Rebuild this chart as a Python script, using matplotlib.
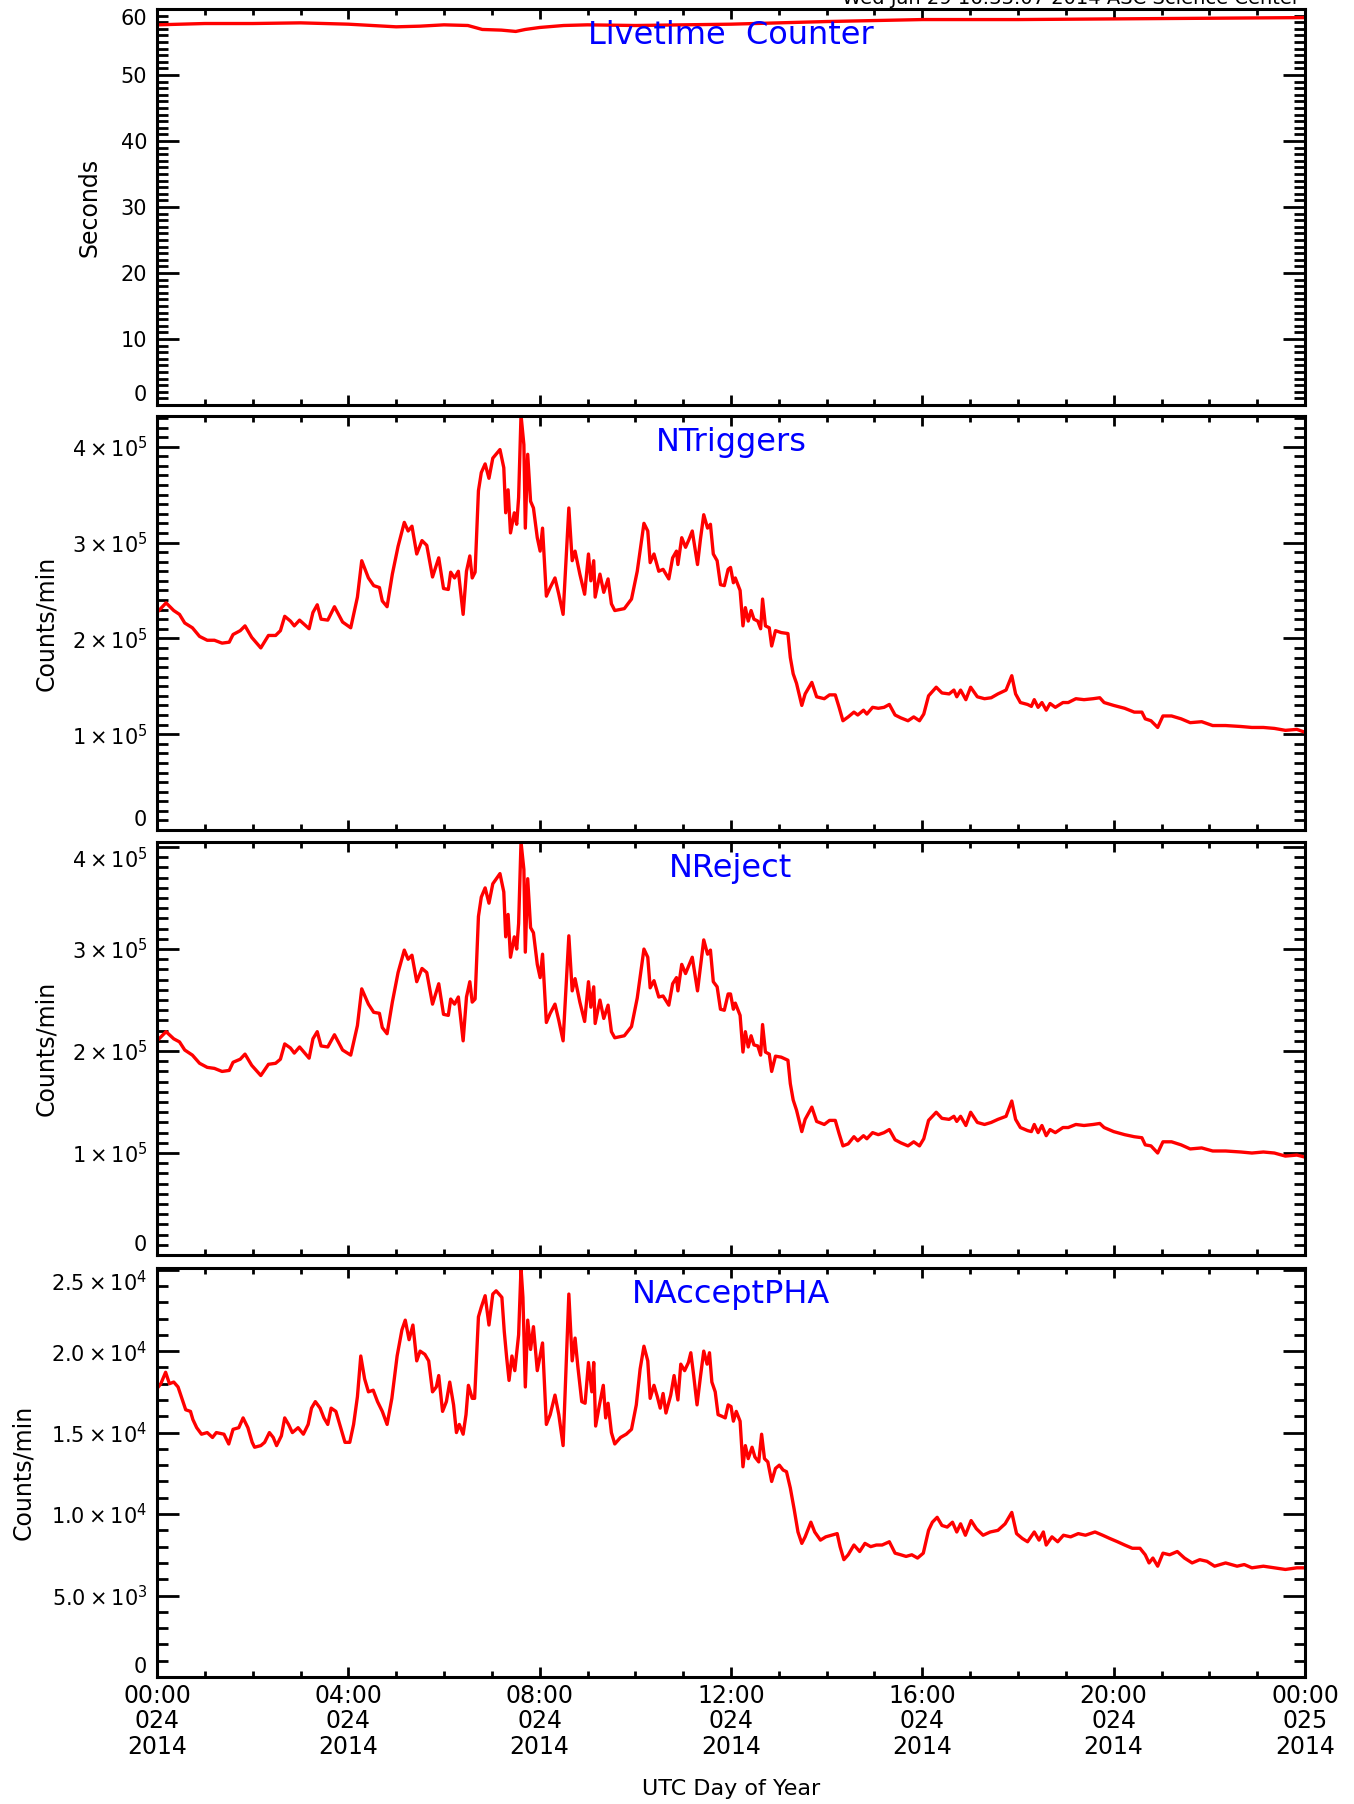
import matplotlib
matplotlib.use('Agg')
import matplotlib.pyplot as plt
from matplotlib.ticker import MultipleLocator

# hours since 00:00 day 024 (2014)
hours_live = [0, 1, 2, 3, 4, 4.5, 5, 5.5, 6, 6.5, 6.8, 7.2, 7.5, 7.7, 8, 8.5, 9, 10, 11, 12, 13, 14, 16, 18, 20, 22, 24]
livetime = [57.6, 57.8, 57.8, 57.9, 57.7, 57.5, 57.3, 57.4, 57.6, 57.5, 56.9, 56.8, 56.6, 56.9, 57.2, 57.5, 57.6,
            57.5, 57.6, 57.7, 57.9, 58.1, 58.4, 58.4, 58.5, 58.6, 58.7]

hours_trig = [0, 0.19, 0.35, 0.47, 0.58, 0.74, 0.89, 1.05, 1.2, 1.36, 1.51, 1.59, 1.74, 1.84, 1.98, 2.17, 2.33,
              2.48, 2.58, 2.67, 2.79, 2.87, 2.98, 3.18, 3.26, 3.35, 3.43, 3.57, 3.71, 3.88, 4.05, 4.19, 4.28,
              4.42, 4.53, 4.65, 4.71, 4.81, 4.92, 5.04, 5.17, 5.25, 5.33, 5.43, 5.54, 5.64, 5.76, 5.89, 5.99,
              6.09, 6.14, 6.22, 6.30, 6.40, 6.47, 6.54, 6.59, 6.65, 6.72, 6.78, 6.86, 6.94, 7.02, 7.17, 7.25,
              7.29, 7.34, 7.39, 7.47, 7.52, 7.56, 7.61, 7.67, 7.70, 7.75, 7.81, 7.87, 7.95, 8.01, 8.06, 8.14,
              8.22, 8.32, 8.40, 8.49, 8.61, 8.68, 8.74, 8.84, 8.94, 9.02, 9.07, 9.13, 9.16, 9.26, 9.34, 9.43,
              9.50, 9.57, 9.77, 9.92, 10.04, 10.18, 10.26, 10.31, 10.39, 10.49, 10.58, 10.70, 10.78, 10.86,
              10.89, 10.97, 11.05, 11.12, 11.19, 11.24, 11.30, 11.36, 11.43, 11.51, 11.57, 11.63, 11.71, 11.78,
              11.86, 11.94, 11.99, 12.05, 12.09, 12.19, 12.25, 12.30, 12.36, 12.42, 12.48, 12.56, 12.62, 12.66,
              12.72, 12.80, 12.85, 12.93, 13.05, 13.19, 13.24, 13.30, 13.37, 13.48, 13.55, 13.69, 13.79, 13.95,
              14.06, 14.18, 14.26, 14.34, 14.45, 14.57, 14.65, 14.77, 14.84, 14.96, 15.08, 15.20, 15.31, 15.43,
              15.55, 15.70, 15.82, 15.94, 16.03, 16.13, 16.29, 16.41, 16.56, 16.66, 16.72, 16.80, 16.91, 17.01,
              17.15, 17.30, 17.44, 17.58, 17.75, 17.87, 17.95, 18.05, 18.20, 18.28, 18.34, 18.42, 18.50, 18.59,
              18.67, 18.78, 18.94, 19.05, 19.21, 19.38, 19.57, 19.71, 19.80, 20.0, 20.23, 20.43, 20.59, 20.66,
              20.78, 20.92, 21.03, 21.21, 21.41, 21.60, 21.84, 22.07, 22.34, 22.66, 22.89, 23.13, 23.36, 23.59,
              23.83, 24.0]

# counts/min in units of 1e5
ntriggers = [2.27, 2.37, 2.29, 2.25, 2.16, 2.11, 2.02, 1.98, 1.98, 1.95, 1.96, 2.04, 2.08, 2.13, 2.01, 1.90, 2.03,
             2.03, 2.08, 2.23, 2.18, 2.13, 2.19, 2.10, 2.27, 2.35, 2.20, 2.19, 2.33, 2.17, 2.11, 2.43, 2.81,
             2.63, 2.55, 2.53, 2.39, 2.33, 2.67, 2.96, 3.21, 3.12, 3.17, 2.88, 3.02, 2.97, 2.64, 2.84, 2.52,
             2.51, 2.69, 2.63, 2.70, 2.25, 2.70, 2.86, 2.63, 2.69, 3.54, 3.73, 3.82, 3.67, 3.88, 3.97, 3.78,
             3.31, 3.55, 3.10, 3.31, 3.19, 3.47, 4.33, 4.02, 3.15, 3.92, 3.43, 3.36, 3.05, 2.91, 3.15, 2.44,
             2.53, 2.63, 2.46, 2.25, 3.36, 2.81, 2.91, 2.67, 2.46, 2.88, 2.60, 2.81, 2.43, 2.67, 2.48, 2.62,
             2.36, 2.29, 2.31, 2.41, 2.70, 3.20, 3.12, 2.79, 2.88, 2.70, 2.72, 2.62, 2.84, 2.91,
             2.77, 3.05, 2.95, 3.03, 3.12, 2.96, 2.77, 3.03, 3.29, 3.15, 3.19, 2.88, 2.81, 2.56,
             2.55, 2.72, 2.74, 2.58, 2.63, 2.50, 2.13, 2.32, 2.18, 2.29, 2.20, 2.18, 2.10, 2.41,
             2.13, 2.11, 1.92, 2.08, 2.06, 2.05, 1.80, 1.63, 1.53, 1.30, 1.42, 1.54, 1.39, 1.37,
             1.41, 1.41, 1.28, 1.14, 1.18, 1.23, 1.20, 1.25, 1.21, 1.28, 1.27, 1.28, 1.31, 1.20,
             1.17, 1.14, 1.18, 1.14, 1.21, 1.40, 1.49, 1.43, 1.42, 1.46, 1.39, 1.46, 1.36, 1.49,
             1.39, 1.37, 1.38, 1.42, 1.46, 1.61, 1.42, 1.33, 1.31, 1.29, 1.36, 1.28, 1.33, 1.25,
             1.32, 1.28, 1.33, 1.33, 1.37, 1.36, 1.37, 1.38, 1.33, 1.30, 1.27, 1.23, 1.23, 1.16,
             1.14, 1.07, 1.19, 1.19, 1.16, 1.12, 1.13, 1.09, 1.09, 1.08, 1.07, 1.07, 1.06, 1.04,
             1.05, 1.02]

nreject = [2.10, 2.19, 2.12, 2.09, 2.01, 1.96, 1.88, 1.84, 1.83, 1.80, 1.81, 1.89, 1.92, 1.97, 1.86, 1.76, 1.87,
           1.88, 1.92, 2.07, 2.03, 1.98, 2.04, 1.93, 2.12, 2.19, 2.05, 2.04, 2.16, 2.01, 1.96, 2.25, 2.61,
           2.46, 2.38, 2.37, 2.23, 2.17, 2.48, 2.77, 2.99, 2.90, 2.94, 2.68, 2.81, 2.77, 2.46, 2.66, 2.36,
           2.35, 2.51, 2.46, 2.53, 2.10, 2.53, 2.68, 2.48, 2.51, 3.32, 3.51, 3.60, 3.45, 3.64, 3.74, 3.56,
           3.12, 3.34, 2.92, 3.12, 3.00, 3.25, 4.05, 3.78, 2.97, 3.69, 3.21, 3.16, 2.85, 2.72, 2.95, 2.28,
           2.37, 2.46, 2.30, 2.10, 3.13, 2.59, 2.71, 2.48, 2.29, 2.68, 2.43, 2.63, 2.27, 2.50, 2.32, 2.45,
           2.19, 2.13, 2.15, 2.24, 2.52, 3.00, 2.92, 2.62, 2.69, 2.53, 2.54, 2.45, 2.66, 2.72,
           2.59, 2.85, 2.76, 2.84, 2.92, 2.77, 2.59, 2.82, 3.09, 2.95, 2.99, 2.68, 2.63, 2.41,
           2.40, 2.56, 2.56, 2.41, 2.47, 2.35, 1.99, 2.19, 2.04, 2.15, 2.06, 2.05, 1.96, 2.26,
           1.99, 1.97, 1.80, 1.95, 1.94, 1.91, 1.68, 1.52, 1.42, 1.21, 1.33, 1.45, 1.31, 1.28,
           1.32, 1.32, 1.19, 1.07, 1.09, 1.16, 1.12, 1.17, 1.14, 1.20, 1.18, 1.20, 1.23, 1.13,
           1.10, 1.07, 1.11, 1.07, 1.14, 1.32, 1.40, 1.34, 1.33, 1.36, 1.31, 1.36, 1.27, 1.40,
           1.30, 1.28, 1.30, 1.33, 1.36, 1.51, 1.33, 1.25, 1.22, 1.21, 1.28, 1.20, 1.27, 1.17,
           1.23, 1.20, 1.25, 1.25, 1.28, 1.27, 1.28, 1.29, 1.25, 1.21, 1.18, 1.16, 1.15, 1.08,
           1.07, 1.00, 1.11, 1.11, 1.08, 1.04, 1.05, 1.02, 1.02, 1.01, 1.00, 1.01, 1.00, 0.97,
           0.98, 0.96]

hours_pha = [0, 0.08, 0.18, 0.26, 0.35, 0.44, 0.52, 0.60, 0.70, 0.75, 0.83, 0.93, 1.05, 1.16, 1.24, 1.40, 1.50,
             1.59, 1.71, 1.80, 1.90, 1.99, 2.04, 2.17, 2.25, 2.35, 2.43, 2.50, 2.60, 2.67, 2.75, 2.83, 2.95,
             3.06, 3.16, 3.23, 3.31, 3.41, 3.49, 3.57, 3.64, 3.74, 3.84, 3.93, 4.03, 4.11, 4.19, 4.26, 4.34,
             4.42, 4.52, 4.61, 4.71, 4.81, 4.91, 5.02, 5.12, 5.19, 5.27, 5.35, 5.43, 5.50, 5.60, 5.68, 5.76,
             5.84, 5.89, 5.97, 6.05, 6.12, 6.20, 6.26, 6.32, 6.40, 6.46, 6.51, 6.59, 6.64, 6.72, 6.78, 6.86,
             6.94, 7.02, 7.09, 7.21, 7.26, 7.31, 7.36, 7.42, 7.48, 7.56, 7.61, 7.65, 7.70, 7.75, 7.81, 7.87,
             7.95, 8.06, 8.14, 8.22, 8.32, 8.40, 8.49, 8.57, 8.61, 8.68, 8.74, 8.80, 8.88, 8.95, 9.02, 9.09,
             9.13, 9.17, 9.25, 9.33, 9.38, 9.43, 9.50, 9.57, 9.69, 9.81, 9.92, 10.02, 10.10, 10.18, 10.26,
             10.31, 10.39, 10.46, 10.52, 10.58, 10.64, 10.74, 10.81, 10.89, 10.95, 11.03, 11.11, 11.16, 11.22,
             11.29, 11.36, 11.43, 11.50, 11.55, 11.60, 11.67, 11.73, 11.81, 11.88, 11.94, 12.0, 12.05, 12.11,
             12.19, 12.25, 12.30, 12.36, 12.44, 12.50, 12.58, 12.64, 12.70, 12.77, 12.85, 12.93, 13.01, 13.09,
             13.16, 13.24, 13.32, 13.40, 13.48, 13.55, 13.67, 13.75, 13.87, 13.98, 14.10, 14.22, 14.28, 14.36,
             14.45, 14.57, 14.69, 14.80, 14.92, 15.04, 15.16, 15.31, 15.43, 15.55, 15.66, 15.78, 15.90, 16.02,
             16.13, 16.21, 16.31, 16.41, 16.52, 16.63, 16.72, 16.80, 16.90, 17.02, 17.13, 17.27, 17.42, 17.58,
             17.73, 17.87, 17.97, 18.09, 18.20, 18.34, 18.44, 18.53, 18.59, 18.71, 18.83, 18.95, 19.10, 19.26,
             19.41, 19.61, 19.77, 19.92, 20.08, 20.23, 20.39, 20.55, 20.66, 20.74, 20.82, 20.92, 21.03, 21.17,
             21.33, 21.48, 21.64, 21.80, 21.95, 22.11, 22.34, 22.58, 22.73, 22.89, 23.13, 23.36, 23.59, 23.83,
             24.0]

# counts/min in units of 1e4
naccept_pha = [1.77, 1.80, 1.87, 1.80, 1.81, 1.78, 1.71, 1.64, 1.63, 1.58, 1.53, 1.49, 1.50, 1.47, 1.50, 1.49, 1.43,
               1.52, 1.53, 1.59, 1.53, 1.44, 1.41, 1.42, 1.44, 1.50, 1.47, 1.42, 1.48, 1.59, 1.55, 1.50, 1.53,
               1.49, 1.55, 1.65, 1.69, 1.65, 1.59, 1.55, 1.65, 1.63, 1.53, 1.44, 1.44, 1.55, 1.72, 1.97, 1.83,
               1.75, 1.76, 1.69, 1.63, 1.55, 1.71, 1.97, 2.13, 2.19, 2.07, 2.16, 1.94, 2.00, 1.98, 1.94, 1.75,
               1.78, 1.85, 1.63, 1.69, 1.81, 1.67, 1.50, 1.55, 1.49, 1.61, 1.79, 1.71, 1.71, 2.21, 2.27, 2.34,
               2.16, 2.35, 2.37, 2.33, 2.12, 1.96, 1.82, 1.97, 1.88, 2.10, 2.51, 2.33, 1.78, 2.19, 2.01, 2.15,
               1.88, 2.05, 1.55, 1.61, 1.73, 1.61, 1.42, 2.04, 2.35, 1.94, 2.08, 1.90, 1.69, 1.68, 1.93, 1.75,
               1.93, 1.54, 1.67, 1.79, 1.59, 1.68, 1.50, 1.43, 1.47, 1.49, 1.52, 1.67, 1.89, 2.03, 1.94,
               1.71, 1.79, 1.72, 1.65, 1.74, 1.62, 1.73, 1.85, 1.70, 1.92, 1.88, 1.93, 1.99, 1.85,
               1.67, 1.84, 2.00, 1.92, 1.99, 1.81, 1.75, 1.61, 1.60, 1.59, 1.67, 1.66, 1.57, 1.63,
               1.57, 1.29, 1.42, 1.34, 1.41, 1.35, 1.32, 1.49, 1.34, 1.32, 1.20, 1.28, 1.30, 1.27,
               1.26, 1.16, 1.03, 0.89, 0.82, 0.86, 0.95, 0.89, 0.84, 0.86, 0.87, 0.88, 0.80, 0.72,
               0.75, 0.81, 0.77, 0.82, 0.80, 0.81, 0.81, 0.83, 0.76, 0.75, 0.74, 0.75, 0.73, 0.76,
               0.90, 0.95, 0.98, 0.93, 0.92, 0.95, 0.89, 0.94, 0.87, 0.96, 0.91, 0.87, 0.89, 0.90,
               0.94, 1.01, 0.88, 0.85, 0.83, 0.89, 0.84, 0.89, 0.81, 0.86, 0.83, 0.87, 0.86, 0.88,
               0.87, 0.89, 0.87, 0.85, 0.83, 0.81, 0.79, 0.79, 0.75, 0.70, 0.73, 0.68, 0.76, 0.75,
               0.77, 0.73, 0.70, 0.72, 0.71, 0.68, 0.70, 0.68, 0.69, 0.67, 0.68, 0.67, 0.66, 0.67,
               0.67]

titles = ['Livetime  Counter', 'NTriggers', 'NReject', 'NAcceptPHA']
ylabels = ['Seconds', 'Counts/min', 'Counts/min', 'Counts/min']
x_tick_hours = [0, 4, 8, 12, 16, 20, 24]
x_tick_labels = ['00:00\n024\n2014', '04:00\n024\n2014', '08:00\n024\n2014', '12:00\n024\n2014',
                 '16:00\n024\n2014', '20:00\n024\n2014', '00:00\n025\n2014']

live_ticks = [0, 10, 20, 30, 40, 50, 60]
live_labels = ['0', '10', '20', '30', '40', '50', '60']
count_ticks = [0, 1e5, 2e5, 3e5, 4e5]
count_labels = ['0', r'$1\times10^{5}$', r'$2\times10^{5}$', r'$3\times10^{5}$', r'$4\times10^{5}$']
pha_ticks = [0, 5e3, 1e4, 1.5e4, 2e4, 2.5e4]
pha_labels = ['0', r'$5.0\times10^{3}$', r'$1.0\times10^{4}$', r'$1.5\times10^{4}$',
              r'$2.0\times10^{4}$', r'$2.5\times10^{4}$']

W, H = 1354, 1804
fig = plt.figure(figsize=(W / 100, H / 100), dpi=100)
plt.rcParams['mathtext.fontset'] = 'dejavusans'

left_px, right_px = 157, 1305
panels_px = [(9, 405), (416, 830), (842, 1255), (1268, 1677)]
label_x = [-0.048, -0.086, -0.086, -0.106]

series = [
    (hours_live, livetime, 1.0, (0, 60), live_ticks, live_labels, 1),
    (hours_trig, ntriggers, 1e5, (0, 4.32e5), count_ticks, count_labels, 1e4),
    (hours_trig, nreject, 1e5, (0, 4.05e5), count_ticks, count_labels, 1e4),
    (hours_pha, naccept_pha, 1e4, (0, 2.51e4), pha_ticks, pha_labels, 1e3),
]

axes = []
for i, (top, bot) in enumerate(panels_px):
    ax = fig.add_axes([left_px / W, 1 - bot / H, (right_px - left_px) / W, (bot - top) / H])
    xs, ys, scale, ylim, yt, ytl, yminor = series[i]
    ax.plot(xs, [v * scale for v in ys], color='red', lw=2.4)
    ax.set_xlim(0, 24)
    ax.set_ylim(*ylim)

    ax.xaxis.set_major_locator(MultipleLocator(4))
    ax.xaxis.set_minor_locator(MultipleLocator(1))
    ax.set_yticks(yt)
    ax.set_yticklabels(ytl)
    ax.yaxis.set_minor_locator(MultipleLocator(yminor))

    ax.tick_params(axis='x', which='major', direction='in', length=7, width=2, top=True, bottom=True)
    ax.tick_params(axis='x', which='minor', direction='in', length=4.3, width=2, top=True, bottom=True)
    ax.tick_params(axis='y', which='major', direction='in', length=16, width=2, left=True, right=True,
                   labelsize=15, pad=7)
    ax.tick_params(axis='y', which='minor', direction='in', length=8, width=2, left=True, right=True)
    for sp in ax.spines.values():
        sp.set_linewidth(2.2)

    # bottom label sits on the axis, top label hangs from it when at the edge
    tl = ax.get_yticklabels()
    tl[0].set_va('bottom')
    if yt[-1] >= ylim[1] - (ylim[1] * 0.02):
        tl[-1].set_va('top')

    if i < 3:
        ax.set_xticklabels([])
    else:
        ax.set_xticks(x_tick_hours)
        ax.set_xticklabels(x_tick_labels, fontsize=17, linespacing=1.08)
        ax.tick_params(axis='x', which='major', pad=5)

    ax.set_ylabel(ylabels[i], fontsize=17)
    ax.yaxis.set_label_coords(label_x[i], 0.5)

    ax.annotate(titles[i], xy=(0.5, 1), xycoords='axes fraction', xytext=(0, -19),
                textcoords='offset points', ha='center', va='center', color='blue', fontsize=23)
    axes.append(ax)

fig.text(731 / W, 1 - 1789 / H, 'UTC Day of Year', ha='center', va='center', fontsize=16)
fig.text(1300 / W, 1 - 4 / H, 'Wed Jan 29 16:33:07 2014 ASC Science Center', ha='right', va='baseline',
         fontsize=14)

fig.savefig('out.png', dpi=100)
